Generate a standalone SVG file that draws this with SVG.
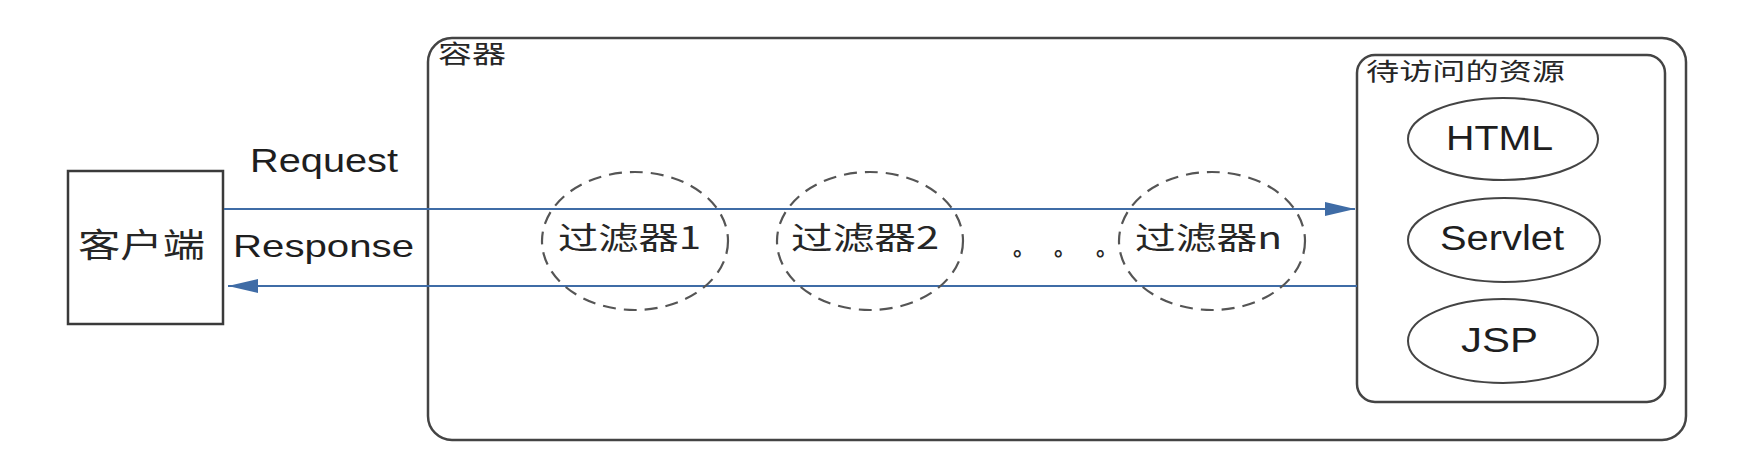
<svg xmlns="http://www.w3.org/2000/svg" width="1749" height="461" viewBox="0 0 1749 461">
<style>
.box{fill:#fff;stroke:#3a3a3a;stroke-width:2.5}
.frame{fill:none;stroke:#444;stroke-width:2.5}
.res{fill:#fff;stroke:#444;stroke-width:2}
.filter{fill:none;stroke:#555;stroke-width:2.2;stroke-dasharray:13 8}
.cn{font-family:"Noto Sans CJK SC","Noto Sans",sans-serif;fill:#262626}
.en{font-family:"Liberation Sans",Arial,sans-serif;fill:#1e1e1e}
.dot{font-family:"Noto Sans CJK SC","Noto Sans",sans-serif;fill:#262626;font-size:22px;font-weight:bold}
.conn{stroke:#3f6ca6;stroke-width:2;fill:none}
</style>
<defs>
<marker id="arr" viewBox="0 0 30 14" markerWidth="30" markerHeight="14" refX="30" refY="7" orient="auto" markerUnits="userSpaceOnUse">
<path d="M0,0 L30,7 L0,14 z" fill="#3f6ca6"/>
</marker>
</defs>
<rect width="1749" height="461" fill="#fff"/>
<g id="container">
<rect class="frame" x="428" y="38" width="1258" height="402" rx="24"/>
<text class="cn" x="438" y="63" font-size="25" textLength="68" lengthAdjust="spacingAndGlyphs">容器</text>
</g>
<g id="resources">
<rect class="frame" x="1357" y="55" width="308" height="347" rx="18"/>
<text class="cn" x="1366" y="80" font-size="24" textLength="199" lengthAdjust="spacingAndGlyphs">待访问的资源</text>
</g>
<g id="html">
<ellipse class="res" cx="1503" cy="139" rx="95" ry="41"/>
<text class="en" x="1446" y="150" font-size="35" textLength="107" lengthAdjust="spacingAndGlyphs">HTML</text>
</g>
<g id="servlet">
<ellipse class="res" cx="1504" cy="240" rx="96" ry="42"/>
<text class="en" x="1440" y="250" font-size="35" textLength="124" lengthAdjust="spacingAndGlyphs">Servlet</text>
</g>
<g id="jsp">
<ellipse class="res" cx="1503" cy="341" rx="95" ry="42"/>
<text class="en" x="1461" y="352" font-size="35" textLength="77" lengthAdjust="spacingAndGlyphs">JSP</text>
</g>
<g id="client">
<rect class="box" x="68" y="171" width="155" height="153"/>
<text class="cn" x="78" y="257" font-size="33" textLength="127" lengthAdjust="spacingAndGlyphs">客户端</text>
</g>
<g id="connectors">
<line class="conn" x1="224" y1="209" x2="1355" y2="209" marker-end="url(#arr)"/>
<line class="conn" x1="1357" y1="286" x2="228" y2="286" marker-end="url(#arr)"/>
<text class="en" x="250" y="172" font-size="33" textLength="148" lengthAdjust="spacingAndGlyphs">Request</text>
<text class="en" x="233" y="257" font-size="32" textLength="181" lengthAdjust="spacingAndGlyphs">Response</text>
</g>
<g id="filter1">
<ellipse class="filter" cx="635" cy="241" rx="93" ry="69"/>
<text class="cn" x="558" y="249" font-size="31" textLength="143" lengthAdjust="spacingAndGlyphs">过滤器1</text>
</g>
<g id="filter2">
<ellipse class="filter" cx="870" cy="241" rx="93" ry="69"/>
<text class="cn" x="791" y="249" font-size="31" textLength="148" lengthAdjust="spacingAndGlyphs">过滤器2</text>
</g>
<g id="dots">
<text class="dot" x="1013" y="255">。</text>
<text class="dot" x="1054" y="255">。</text>
<text class="dot" x="1096" y="255">。</text>
</g>
<g id="filtern">
<ellipse class="filter" cx="1212" cy="241" rx="93" ry="69"/>
<text class="cn" x="1135" y="249" font-size="31" textLength="147" lengthAdjust="spacingAndGlyphs">过滤器n</text>
</g>
</svg>
